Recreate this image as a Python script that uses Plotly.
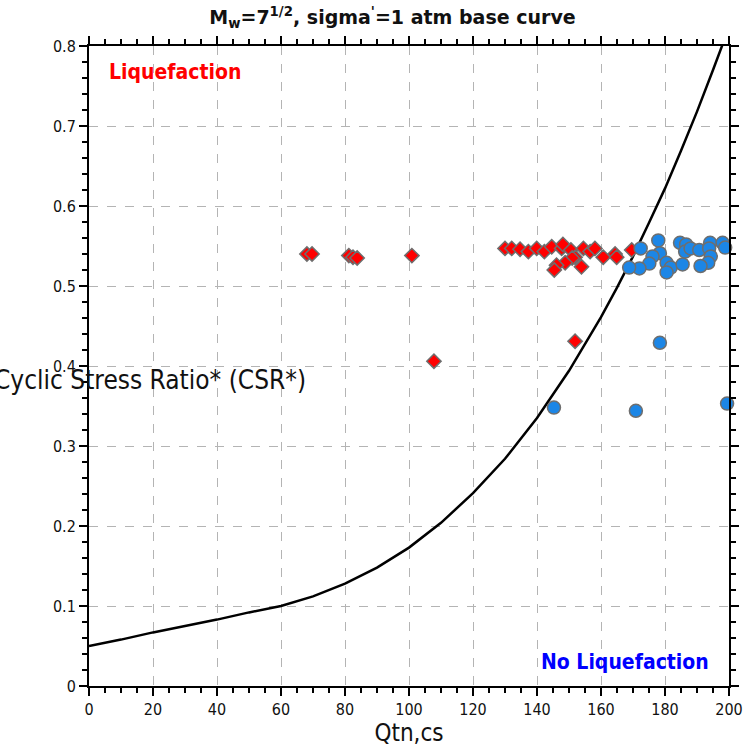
import plotly.graph_objects as go

# Base curve: CRR (CSR*) versus normalized clean-sand tip resistance
curve_q = [0, 10, 20, 30, 40, 50, 60, 70, 80, 90, 100, 110, 120, 130,
           140, 150, 160, 165, 170, 175, 180, 185, 190, 195, 198]
curve_csr = [0.050, 0.058, 0.067, 0.075, 0.083, 0.092, 0.100, 0.112, 0.128,
             0.148, 0.173, 0.204, 0.241, 0.284, 0.335, 0.394, 0.461, 0.498,
             0.537, 0.579, 0.622, 0.669, 0.718, 0.770, 0.802]

# Cases that liquefied
liq_q = [68.1, 69.7, 81.2, 82.5, 83.8, 100.9, 107.8, 151.9,
         130.0, 132.1, 134.7, 137.3, 139.9, 142.3, 144.6, 147.7, 148.1,
         150.6, 151.9, 151.0, 148.8, 146.1, 145.4, 153.9, 154.5, 156.6,
         158.1, 160.7, 164.4, 164.9, 169.6]
liq_csr = [0.540, 0.540, 0.538, 0.536, 0.535, 0.538, 0.406, 0.431,
           0.547, 0.547, 0.546, 0.543, 0.547, 0.543, 0.549, 0.547, 0.552,
           0.545, 0.536, 0.535, 0.529, 0.526, 0.520, 0.524, 0.547, 0.543,
           0.547, 0.536, 0.540, 0.536, 0.545]

# Cases that did not liquefy
noliq_q = [172.4, 177.9, 178.4, 176.1, 175.1, 172.0, 168.8, 180.5, 181.8,
           180.5, 185.5, 184.7, 186.6, 186.3, 188.0, 190.7, 194.1, 193.8,
           194.3, 193.5, 191.1, 198.0, 198.8, 145.3, 170.9, 178.4, 199.4]
noliq_csr = [0.547, 0.557, 0.541, 0.537, 0.528, 0.522, 0.523, 0.529, 0.523,
             0.517, 0.527, 0.554, 0.552, 0.543, 0.547, 0.545, 0.554, 0.547,
             0.537, 0.529, 0.525, 0.554, 0.548, 0.348, 0.344, 0.429, 0.353]

x_ticks = list(range(0, 201, 20))
y_ticks = [0, 0.1, 0.2, 0.3, 0.4, 0.5, 0.6, 0.7, 0.8]
y_tick_text = ["0", "0.1", "0.2", "0.3", "0.4", "0.5", "0.6", "0.7", "0.8"]

NARROW = "Liberation Sans Narrow, DejaVu Sans Condensed, sans-serif"
FONT = "DejaVu Sans Condensed, DejaVu Sans, sans-serif"

fig = go.Figure()

fig.add_trace(go.Scatter(
    x=curve_q, y=curve_csr, mode="lines",
    line=dict(color="black", width=2.5),
    showlegend=False, hoverinfo="skip",
))

fig.add_trace(go.Scatter(
    x=liq_q, y=liq_csr, mode="markers",
    marker=dict(symbol="diamond", size=11, color="#ff0000",
                line=dict(color="#6e6e6e", width=1.5)),
    showlegend=False, cliponaxis=False,
))

fig.add_trace(go.Scatter(
    x=noliq_q, y=noliq_csr, mode="markers",
    marker=dict(symbol="circle", size=13, color="#1c86e6",
                line=dict(color="#6e6e6e", width=1.5)),
    showlegend=False, cliponaxis=False,
))

axis_common = dict(
    showline=True, linecolor="black", linewidth=2, mirror="ticks",
    ticks="outside", ticklen=8, tickwidth=1.5, tickcolor="black",
    showgrid=True, gridcolor="#b4b4b4", griddash="dash", gridwidth=1,
    zeroline=False, automargin=False,
    tickfont=dict(family=NARROW, size=16, color="#111111"),
)

fig.update_xaxes(
    range=[0, 200], tickvals=x_ticks, ticktext=[str(v) for v in x_ticks],
    minor=dict(dtick=5, ticks="outside", ticklen=5, tickcolor="black",
               tickwidth=1.5, showgrid=False),
    title=dict(text="Qtn,cs", font=dict(family=FONT, size=24, color="#111111"),
               standoff=2),
    **axis_common,
)
fig.update_yaxes(
    range=[0, 0.8], tickvals=y_ticks, ticktext=y_tick_text,
    minor=dict(dtick=0.02, ticks="outside", ticklen=5, tickcolor="black",
               tickwidth=1.5, showgrid=False),
    ticklabelstandoff=0,
    **axis_common,
)

fig.update_layout(
    width=749, height=747,
    margin=dict(l=89, r=20, t=46, b=61),
    paper_bgcolor="white", plot_bgcolor="white",
    title=dict(
        text="<b>M<sub>w</sub>=7<sup>1/2</sup>, sigma<sup>'</sup>=1 atm base curve</b>",
        font=dict(family="DejaVu Sans, sans-serif", size=19, color="#111111"),
        x=0.524, xanchor="center", y=0.977, yanchor="middle",
    ),
    annotations=[
        dict(text="Cyclic Stress Ratio* (CSR*)", xref="paper", yref="paper",
             x=0.095, y=0.478, xanchor="center", yanchor="middle",
             showarrow=False,
             font=dict(family=FONT, size=26, color="#111111")),
        dict(text="<b>Liquefaction</b>", xref="x", yref="y",
             x=5.6, y=0.768, xanchor="left", yanchor="middle", showarrow=False,
             font=dict(family=FONT, size=21, color="#ff0000")),
        dict(text="<b>No Liquefaction</b>", xref="x", yref="y",
             x=194.4, y=0.03, xanchor="right", yanchor="middle", showarrow=False,
             font=dict(family=FONT, size=21, color="#0000ff")),
    ],
)

fig.write_html("out.html")
